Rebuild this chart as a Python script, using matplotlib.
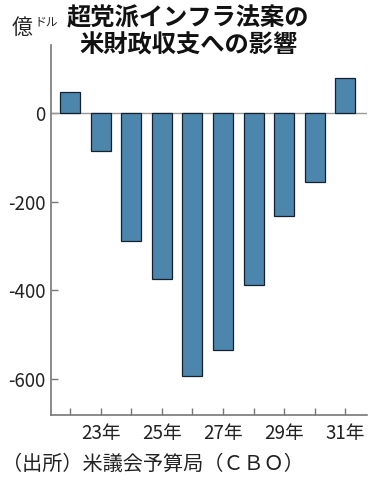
import numpy as np
import matplotlib
matplotlib.use("Agg")
import matplotlib.pyplot as plt

plt.rcParams['font.family'] = ['Noto Sans CJK JP', 'DejaVu Sans']

# fiscal years 2022-2031, impact on US budget balance (100 million dollars)
years = [2022, 2023, 2024, 2025, 2026, 2027, 2028, 2029, 2030, 2031]
values = [47, -87, -289, -374, -594, -535, -389, -232, -157, 78]
tick_labels = ["", "23年", "", "25年", "", "27年", "", "29年", "", "31年"]
yticks = [0, -200, -400, -600]

title = "超党派インフラ法案の\n米財政収支への影響"
source = "（出所）米議会予算局（ＣＢＯ）"

fig = plt.figure(figsize=(3.8, 4.82), dpi=100)
ax = fig.add_axes([0.1334, 0.139, 0.832, 0.768])

x = np.arange(len(years))
ax.bar(x, values, width=0.65, color="#4d86ad", edgecolor="#14202c", linewidth=0.9, zorder=3)
ax.axhline(0, color="#999999", linewidth=1.0, zorder=2)

ax.set_xlim(-0.63, 9.7)
ax.set_ylim(-681, 153)
ax.set_xticks(x)
ax.set_xticklabels(tick_labels)
ax.set_yticks(yticks)
ax.set_yticklabels([str(v) for v in yticks])

for s in ["top", "right"]:
    ax.spines[s].set_visible(False)
for s in ["left", "bottom"]:
    ax.spines[s].set_color("#777777")
    ax.spines[s].set_linewidth(1.2)

ax.tick_params(axis="both", direction="in", length=5, width=1, color="#777777",
               labelsize=13.5, labelcolor="#222222")
ax.tick_params(axis="x", pad=6)
ax.tick_params(axis="y", pad=4)

fig.text(0.495, 0.986, title, ha="center", va="top", fontsize=17.5,
         fontweight="bold", linespacing=1.12, color="#111111")
fig.text(0.03, 0.930, "億", fontsize=15, color="#222222", va="baseline")
fig.text(0.092, 0.947, "ドル", fontsize=8.5, color="#222222", va="baseline")
fig.text(0.005, 0.025, source, fontsize=14.5, color="#222222", va="baseline")

fig.savefig("out.png", dpi=100)
